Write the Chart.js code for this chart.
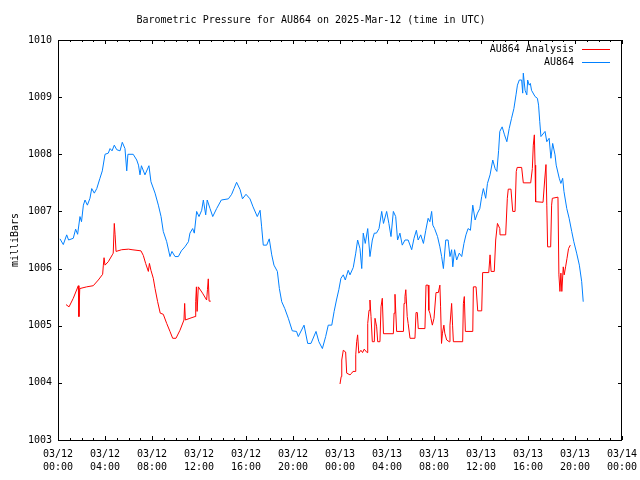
<!DOCTYPE html>
<html>
<head>
<meta charset="utf-8">
<script src="https://cdn.jsdelivr.net/npm/chart.js@4.4.1/dist/chart.umd.min.js"></script>
<style>
  html, body { margin: 0; padding: 0; background: #fff; }
  #wrap { width: 640px; height: 480px; }
</style>
</head>
<body>
<div id="wrap"><canvas id="chart" width="640" height="480"></canvas></div>
<script>
// hours since 03/12 00:00 UTC
const tickDates = ["03/12","03/12","03/12","03/12","03/12","03/12","03/13","03/13","03/13","03/13","03/13","03/13","03/14"];
const tickTimes = ["00:00","04:00","08:00","12:00","16:00","20:00","00:00","04:00","08:00","12:00","16:00","20:00","00:00"];

const obsHours = [0.17,0.45,0.74,0.9,1.3,1.5,1.67,1.87,2.0,2.16,2.3,2.5,2.72,2.87,3.09,3.3,3.57,3.77,4.0,4.28,4.43,4.6,4.79,5.0,5.28,5.47,5.7,5.85,5.95,6.4,6.7,6.85,6.98,7.1,7.4,7.74,7.91,8.26,8.54,8.77,8.96,9.25,9.53,9.7,9.96,10.24,10.5,10.8,11.1,11.23,11.46,11.6,11.8,12.0,12.23,12.37,12.57,12.7,12.94,13.17,13.5,13.9,14.5,14.78,14.98,15.2,15.5,15.7,16.0,16.34,16.6,16.96,17.2,17.33,17.47,17.76,17.98,18.19,18.38,18.67,18.84,19.04,19.3,19.6,19.94,20.3,20.45,20.94,21.25,21.53,21.96,22.2,22.5,22.78,23.0,23.3,23.5,23.7,23.9,24.08,24.28,24.45,24.7,24.85,25.13,25.34,25.5,25.7,25.85,25.98,26.15,26.36,26.55,26.75,26.92,27.1,27.32,27.55,27.7,27.97,28.16,28.34,28.54,28.74,28.9,29.1,29.3,29.53,29.8,30.1,30.3,30.5,30.65,30.87,31.1,31.3,31.5,31.65,31.8,31.9,32.05,32.3,32.5,32.65,32.8,33.0,33.2,33.36,33.5,33.6,33.75,33.93,34.15,34.36,34.55,34.72,34.9,35.1,35.3,35.5,35.7,35.9,36.06,36.2,36.4,36.55,36.77,37.0,37.2,37.35,37.5,37.6,37.8,38.0,38.2,38.4,38.6,38.8,38.98,39.1,39.26,39.46,39.55,39.6,39.75,39.9,39.97,40.1,40.2,40.3,40.6,40.8,40.9,41.0,41.1,41.45,41.6,41.8,41.95,42.1,42.3,42.4,42.66,42.8,42.95,43.06,43.3,43.5,43.72,43.9,44.14,44.37,44.57,44.7];
const obsValues = [1006.52,1006.42,1006.59,1006.50,1006.53,1006.69,1006.60,1006.91,1006.82,1007.11,1007.20,1007.11,1007.23,1007.40,1007.32,1007.40,1007.58,1007.71,1008.00,1008.02,1008.10,1008.06,1008.16,1008.08,1008.06,1008.21,1008.10,1007.71,1008.00,1008.00,1007.90,1007.81,1007.64,1007.80,1007.64,1007.80,1007.52,1007.32,1007.11,1006.91,1006.65,1006.47,1006.21,1006.30,1006.21,1006.21,1006.31,1006.38,1006.47,1006.62,1006.70,1006.62,1007.00,1006.91,1007.02,1007.20,1006.94,1007.20,1007.05,1006.91,1007.05,1007.20,1007.22,1007.30,1007.40,1007.51,1007.38,1007.22,1007.30,1007.22,1007.08,1006.91,1007.02,1006.73,1006.41,1006.41,1006.52,1006.24,1006.06,1005.95,1005.65,1005.42,1005.30,1005.13,1004.91,1004.90,1004.81,1005.01,1004.69,1004.69,1004.90,1004.72,1004.60,1004.81,1005.01,1005.01,1005.25,1005.45,1005.63,1005.83,1005.89,1005.80,1005.97,1005.89,1006.02,1006.27,1006.50,1006.35,1006.00,1006.62,1006.44,1006.70,1006.21,1006.50,1006.62,1006.62,1006.70,1007.00,1006.79,1007.00,1006.79,1006.56,1007.00,1006.91,1006.50,1006.62,1006.41,1006.50,1006.50,1006.33,1006.53,1006.67,1006.50,1006.59,1006.44,1006.67,1006.88,1006.82,1007.00,1006.76,1006.70,1006.56,1006.38,1006.21,1006.00,1006.50,1006.50,1006.21,1006.33,1006.03,1006.33,1006.15,1006.27,1006.21,1006.44,1006.59,1006.70,1006.67,1007.11,1006.85,1006.97,1007.05,1007.26,1007.40,1007.23,1007.49,1007.64,1007.90,1007.75,1007.70,1008.07,1008.40,1008.48,1008.34,1008.22,1008.45,1008.63,1008.80,1009.04,1009.21,1009.30,1009.30,1009.07,1009.42,1009.12,1009.04,1009.30,1009.21,1009.24,1009.12,1009.01,1008.98,1008.86,1008.57,1008.31,1008.40,1008.22,1008.28,1007.93,1008.19,1007.99,1007.81,1007.58,1007.49,1007.58,1007.35,1007.05,1006.88,1006.65,1006.47,1006.27,1006.06,1005.77,1005.42];

// null marks the missing stretch of the analysis
const anaHours = [0.68,0.94,1.3,1.73,1.78,1.85,2.44,3.0,3.43,3.8,3.86,3.92,4.0,4.28,4.62,4.7,4.79,4.86,4.94,5.42,6.0,6.3,7.06,7.26,7.46,7.69,7.78,7.91,8.11,8.26,8.48,8.7,8.96,9.25,9.53,9.76,10.04,10.38,10.72,10.78,10.84,11.23,11.66,11.72,11.78,11.84,11.94,12.3,12.65,12.72,12.79,12.86,13.0,18.0,24.0,24.1,24.15,24.28,24.48,24.57,24.85,25.0,25.1,25.28,25.34,25.42,25.5,25.6,25.78,25.92,26.06,26.3,26.36,26.47,26.55,26.64,26.75,26.92,26.98,27.12,27.21,27.4,27.49,27.6,27.7,28.54,28.6,28.68,28.82,29.4,29.45,29.53,29.6,29.72,29.8,29.96,30.38,30.47,30.58,30.66,31.23,31.32,31.5,31.56,31.65,31.74,31.86,32.0,32.17,32.37,32.5,32.56,32.64,32.72,32.84,32.92,33.08,33.3,33.36,33.5,33.58,33.65,34.44,34.5,34.58,34.67,35.3,35.35,35.58,35.72,36.06,36.14,36.66,36.77,36.86,37.13,37.25,37.4,37.6,37.62,38.1,38.24,38.32,38.55,38.7,38.9,39.0,39.08,39.46,39.6,40.23,40.37,40.45,40.54,40.6,40.65,41.28,41.42,41.53,41.6,41.67,41.93,42.01,42.07,42.55,42.63,42.72,42.8,42.88,43.0,43.08,43.2,43.32,43.45,43.6];
const anaValues = [1005.37,1005.33,1005.48,1005.70,1005.16,1005.65,1005.68,1005.70,1005.80,1005.90,1006.06,1006.19,1006.06,1006.12,1006.24,1006.27,1006.79,1006.59,1006.30,1006.33,1006.34,1006.33,1006.31,1006.23,1006.09,1005.95,1006.09,1005.97,1005.83,1005.65,1005.42,1005.22,1005.20,1005.04,1004.90,1004.78,1004.78,1004.92,1005.10,1005.39,1005.10,1005.13,1005.16,1005.42,1005.68,1005.25,1005.68,1005.57,1005.45,1005.63,1005.82,1005.43,1005.43,null,1003.98,1004.11,1004.40,1004.57,1004.54,1004.17,1004.14,1004.17,1004.20,1004.20,1004.49,1004.72,1004.84,1004.52,1004.57,1004.53,1004.59,1004.53,1005.04,1005.27,1005.45,1005.16,1004.72,1004.72,1005.13,1004.98,1004.72,1004.72,1005.33,1005.48,1004.86,1004.86,1005.22,1005.55,1004.90,1004.90,1005.39,1005.51,1005.63,1005.16,1005.04,1004.78,1004.78,1005.23,1005.23,1004.95,1004.95,1005.71,1005.71,1005.27,1005.22,1005.13,1005.01,1005.13,1005.58,1005.58,1005.71,1005.33,1004.69,1004.87,1005.01,1004.87,1004.75,1004.72,1005.01,1005.39,1005.01,1004.72,1004.72,1005.39,1005.51,1004.90,1004.90,1005.68,1005.68,1005.26,1005.26,1005.93,1005.93,1006.24,1005.95,1005.95,1006.50,1006.79,1006.70,1006.59,1006.59,1007.23,1007.39,1007.39,1007.00,1007.00,1007.70,1007.77,1007.77,1007.50,1007.50,1007.75,1008.16,1008.34,1007.81,1007.17,1007.16,1007.55,1007.82,1007.11,1006.38,1006.38,1007.11,1007.23,1007.25,1005.89,1005.60,1005.92,1005.60,1006.03,1005.89,1006.03,1006.18,1006.35,1006.41];

const FONT = "'DejaVu Sans Mono', 'Liberation Mono', monospace";

function pts(xs, ys){ return xs.map((x,i)=>({x:x, y:ys[i]})); }

// gnuplot style frame, inward tics and legend with sample line on the right
const framePlugin = {
  id: "frame",
  afterDraw(chart){
    const ctx = chart.ctx;
    const a = chart.chartArea;
    const xs = chart.scales.x, ys = chart.scales.y;
    ctx.save();
    ctx.strokeStyle = "#000";
    ctx.lineWidth = 1;
    ctx.strokeRect(Math.round(a.left)+0.5, Math.round(a.top)+0.5,
      Math.round(a.right-a.left)-1, Math.round(a.bottom-a.top));
    ctx.beginPath();
    for(let h=xs.min; h<=xs.max; h++){
      const px = Math.round(xs.getPixelForValue(h))+0.5;
      const len = (h%4===0) ? 4 : 2;
      ctx.moveTo(px, a.bottom); ctx.lineTo(px, a.bottom-len);
      ctx.moveTo(px, a.top); ctx.lineTo(px, a.top+len);
    }
    ys.ticks.forEach(t=>{
      const py = Math.round(ys.getPixelForValue(t.value))+0.5;
      ctx.moveTo(a.left, py); ctx.lineTo(a.left+4, py);
      ctx.moveTo(a.right, py); ctx.lineTo(a.right-4, py);
    });
    ctx.stroke();

    ctx.font = "10px " + FONT;
    ctx.textAlign = "right";
    ctx.textBaseline = "middle";
    chart.data.datasets.forEach((ds,i)=>{
      const y = 49 + i*13;
      ctx.fillStyle = "#000";
      ctx.fillText(ds.label, a.right-48, y);
      ctx.strokeStyle = ds.borderColor;
      ctx.beginPath();
      ctx.moveTo(a.right-40, y+0.5); ctx.lineTo(a.right-12, y+0.5);
      ctx.stroke();
    });
    ctx.restore();
  }
};

new Chart(document.getElementById("chart"), {
  type: "line",
  data: {
    datasets: [
      { label: "AU864 Analysis", data: pts(anaHours, anaValues), borderColor: "#ff0000",
        borderWidth: 1, pointRadius: 0, spanGaps: false, tension: 0 },
      { label: "AU864", data: pts(obsHours, obsValues), borderColor: "#0080ff",
        borderWidth: 1, pointRadius: 0, tension: 0 }
    ]
  },
  options: {
    responsive: false,
    animation: false,
    layout: { padding: { left: 0, right: 18, top: 0, bottom: 0 } },
    plugins: {
      legend: { display: false },
      tooltip: { enabled: false },
      title: {
        display: true,
        text: "Barometric Pressure for AU864 on 2025-Mar-12 (time in UTC)",
        color: "#000",
        font: { family: FONT, size: 10, weight: "normal", lineHeight: 1.2 },
        padding: { top: 14, bottom: 14 }
      }
    },
    scales: {
      x: {
        type: "linear", min: 0, max: 48,
        grid: { display: false, drawTicks: false },
        border: { display: false },
        afterFit(s){ s.height = 40; s.paddingLeft = 0; s.paddingRight = 0; },
        ticks: {
          stepSize: 4, autoSkip: false, maxRotation: 0, padding: 8, color: "#000",
          font: { family: FONT, size: 10, lineHeight: 1.3 },
          callback: (v)=>[tickDates[v/4], tickTimes[v/4]]
        }
      },
      y: {
        min: 1003, max: 1010,
        grid: { display: false, drawTicks: false },
        border: { display: false },
        afterFit(s){ s.width = 58; },
        title: { display: true, text: "milliBars", color: "#000",
          font: { family: FONT, size: 10, lineHeight: 1.2 }, padding: { top: 9, bottom: 0 } },
        ticks: { stepSize: 1, padding: 6, color: "#000",
          font: { family: FONT, size: 10 },
          callback: (v)=>String(v) }
      }
    }
  },
  plugins: [framePlugin]
});
</script>
</body>
</html>
